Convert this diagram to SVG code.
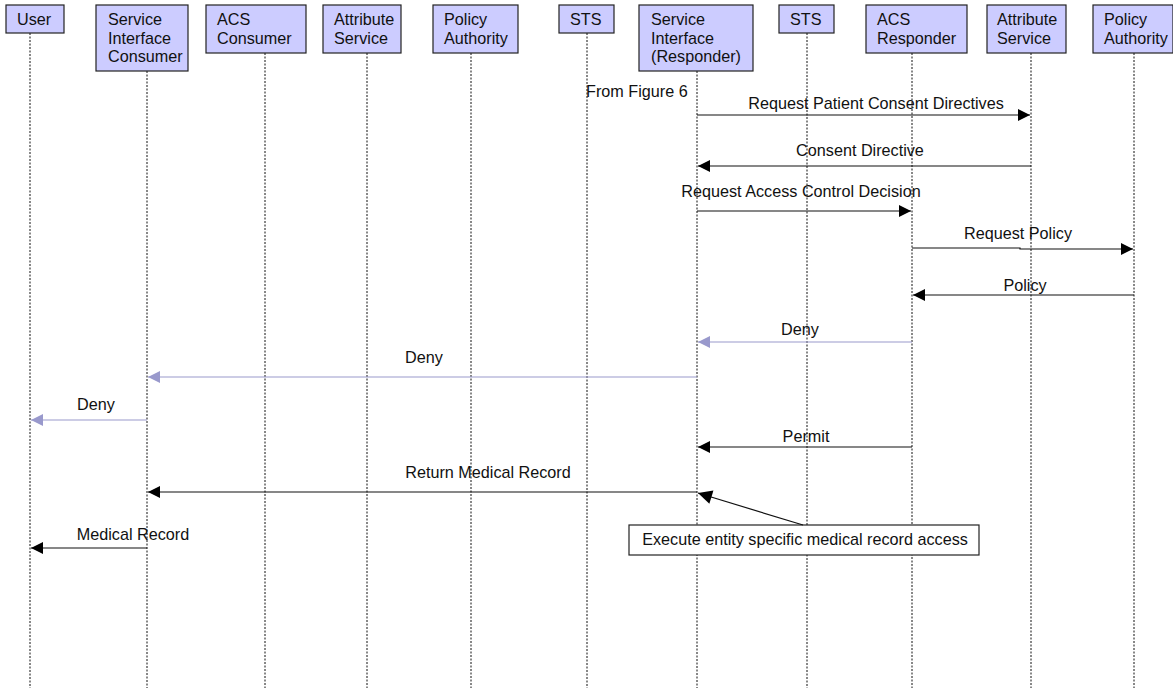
<svg xmlns="http://www.w3.org/2000/svg" width="1173" height="688" viewBox="0 0 1173 688">
<style>
.box{fill:#ccccff;stroke:#222;stroke-width:1.2}
.t{font-family:"Liberation Sans",Arial,sans-serif;font-size:16.2px;fill:#111}
.life{stroke:#111;stroke-width:1;stroke-dasharray:2,1.5}
.msg{stroke:#111;stroke-width:1.2;fill:none}
.deny{stroke:#9999cc;stroke-width:1.2;fill:none}
.lbl{font-family:"Liberation Sans",Arial,sans-serif;font-size:16.2px;fill:#111;text-anchor:middle}
</style>
<defs>
<marker id="ah" viewBox="0 0 10 10" refX="10" refY="5" markerWidth="12" markerHeight="12" markerUnits="userSpaceOnUse" orient="auto"><path d="M0,0 L10,5 L0,10 z" fill="#000"/></marker>
<marker id="ahb" viewBox="0 0 10 10" refX="10" refY="5" markerWidth="12" markerHeight="12" markerUnits="userSpaceOnUse" orient="auto"><path d="M0,0 L10,5 L0,10 z" fill="#9999cc"/></marker>
<marker id="ahn" viewBox="0 0 10 10" refX="10" refY="5" markerWidth="17" markerHeight="14" markerUnits="userSpaceOnUse" orient="auto"><path d="M0,0 L10,5 L0,10 z" fill="#000"/></marker>
</defs>
<rect width="1173" height="688" fill="#fff"/>
<g id="lifelines">
<line class="life" x1="30" y1="33" x2="30" y2="688"/>
<line class="life" x1="147" y1="71" x2="147" y2="688"/>
<line class="life" x1="265" y1="53" x2="265" y2="688"/>
<line class="life" x1="367" y1="53" x2="367" y2="688"/>
<line class="life" x1="471" y1="53" x2="471" y2="688"/>
<line class="life" x1="587" y1="33" x2="587" y2="688"/>
<line class="life" x1="697" y1="71" x2="697" y2="688"/>
<line class="life" x1="807" y1="33" x2="807" y2="688"/>
<line class="life" x1="912" y1="53" x2="912" y2="688"/>
<line class="life" x1="1031" y1="53" x2="1031" y2="688"/>
<line class="life" x1="1134" y1="53" x2="1134" y2="688"/>
</g>
<g id="user"><rect class="box" x="6" y="5" width="58" height="28"/><text class="t" x="17" y="25">User</text></g>
<g id="sic"><rect class="box" x="96" y="5" width="92" height="66"/><text class="t" x="108" y="25">Service</text><text class="t" x="108" y="44">Interface</text><text class="t" x="108" y="62">Consumer</text></g>
<g id="acsc"><rect class="box" x="206" y="5" width="100" height="48"/><text class="t" x="217" y="25">ACS</text><text class="t" x="217" y="44">Consumer</text></g>
<g id="attr1"><rect class="box" x="323" y="5" width="78" height="48"/><text class="t" x="334" y="25">Attribute</text><text class="t" x="334" y="44">Service</text></g>
<g id="pa1"><rect class="box" x="433" y="5" width="85" height="48"/><text class="t" x="444" y="25">Policy</text><text class="t" x="444" y="44">Authority</text></g>
<g id="sts1"><rect class="box" x="559" y="5" width="55" height="28"/><text class="t" x="570" y="25">STS</text></g>
<g id="sir"><rect class="box" x="639" y="5" width="114" height="66"/><text class="t" x="651" y="25">Service</text><text class="t" x="651" y="44">Interface</text><text class="t" x="651" y="62">(Responder)</text></g>
<g id="sts2"><rect class="box" x="779" y="5" width="55" height="28"/><text class="t" x="790" y="25">STS</text></g>
<g id="acsr"><rect class="box" x="866" y="5" width="101" height="48"/><text class="t" x="877" y="25">ACS</text><text class="t" x="877" y="44">Responder</text></g>
<g id="attr2"><rect class="box" x="987" y="5" width="79" height="48"/><text class="t" x="997" y="25">Attribute</text><text class="t" x="997" y="44">Service</text></g>
<g id="pa2"><rect class="box" x="1093" y="5" width="80" height="48"/><text class="t" x="1104" y="25">Policy</text><text class="t" x="1104" y="44">Authority</text></g>
<g id="note"><rect x="629" y="525" width="350" height="30" fill="#fff" stroke="#222" stroke-width="1.2"/><text class="lbl" x="805" y="545">Execute entity specific medical record access</text></g>
<g id="connectors">
<text class="t" x="586" y="97">From Figure 6</text>
<line class="msg" x1="697" y1="115" x2="1030" y2="115" marker-end="url(#ah)"/>
<text class="lbl" x="876" y="109">Request Patient Consent Directives</text>
<line class="msg" x1="1031" y1="166" x2="698" y2="166" marker-end="url(#ah)"/>
<text class="lbl" x="860" y="156">Consent Directive</text>
<line class="msg" x1="697" y1="211" x2="911" y2="211" marker-end="url(#ah)"/>
<text class="lbl" x="801" y="197">Request Access Control Decision</text>
<polyline class="msg" points="912,248 1020,248 1020,249 1133,249" marker-end="url(#ah)"/>
<text class="lbl" x="1018" y="239">Request Policy</text>
<line class="msg" x1="1134" y1="295" x2="913" y2="295" marker-end="url(#ah)"/>
<text class="lbl" x="1025" y="291">Policy</text>
<line class="deny" x1="912" y1="342" x2="698" y2="342" marker-end="url(#ahb)"/>
<text class="lbl" x="800" y="335">Deny</text>
<line class="deny" x1="697" y1="377" x2="148" y2="377" marker-end="url(#ahb)"/>
<text class="lbl" x="424" y="363">Deny</text>
<line class="deny" x1="147" y1="420" x2="31" y2="420" marker-end="url(#ahb)"/>
<text class="lbl" x="96" y="410">Deny</text>
<line class="msg" x1="912" y1="447" x2="698" y2="447" marker-end="url(#ah)"/>
<text class="lbl" x="806" y="442">Permit</text>
<line class="msg" x1="697" y1="492" x2="148" y2="492" marker-end="url(#ah)"/>
<text class="lbl" x="488" y="478">Return Medical Record</text>
<line class="msg" x1="147" y1="548" x2="31" y2="548" marker-end="url(#ah)"/>
<text class="lbl" x="133" y="540">Medical Record</text>
<line class="msg" x1="803" y1="525" x2="698" y2="493" marker-end="url(#ahn)"/>
</g>
</svg>
